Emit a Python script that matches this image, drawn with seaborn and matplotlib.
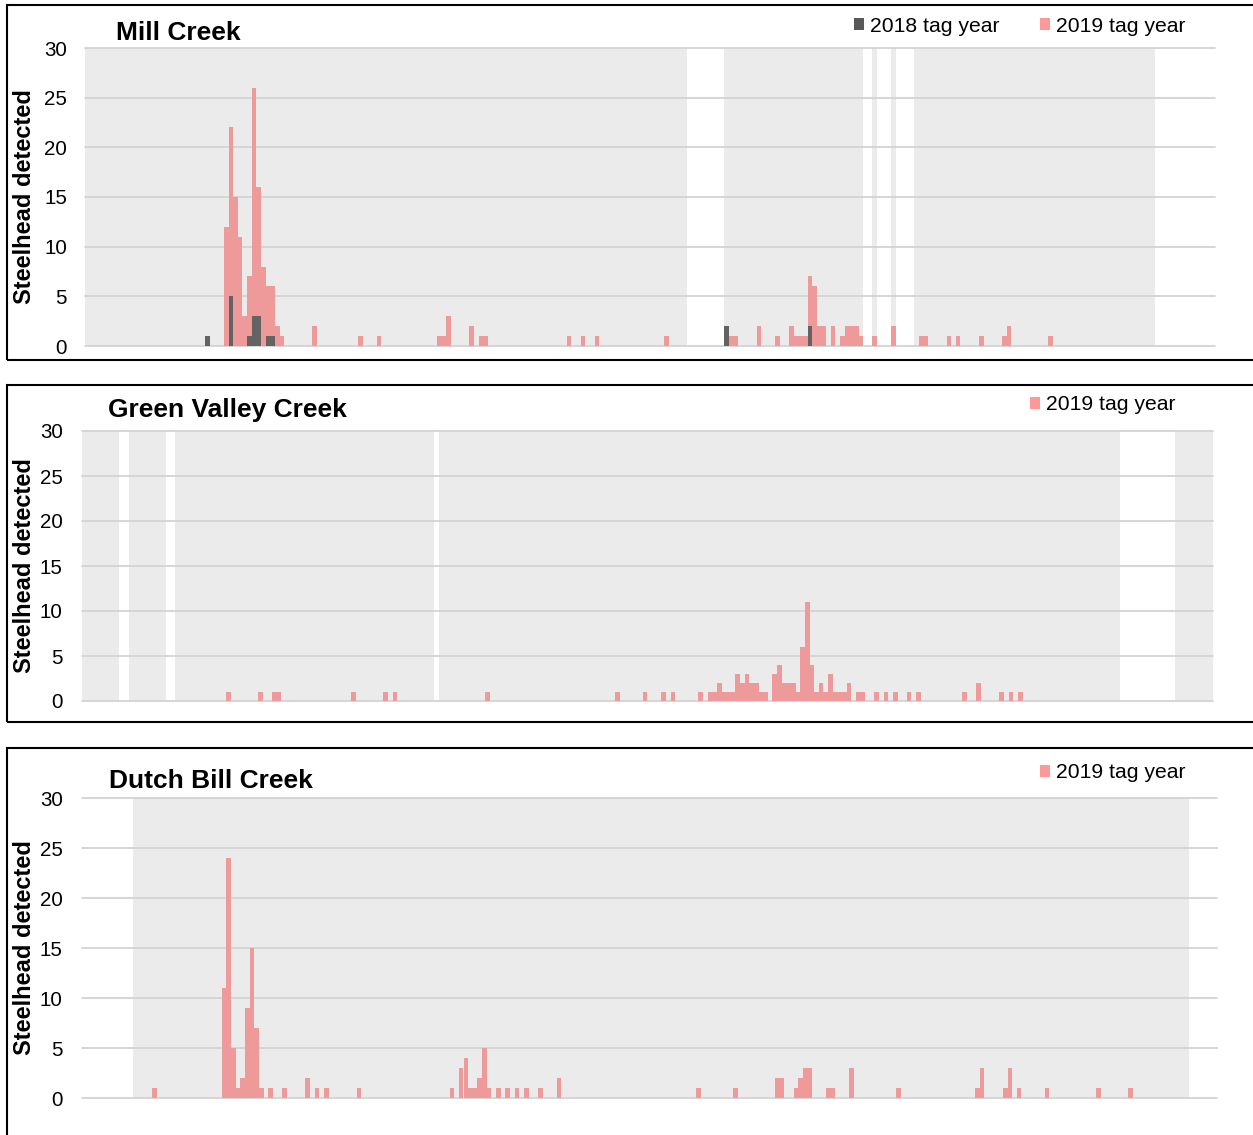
import matplotlib
matplotlib.use("Agg")
import matplotlib.pyplot as plt
from matplotlib.patches import Rectangle, Patch
import pandas as pd
import seaborn as sns

sns.set_style("white")
plt.rcParams["font.family"] = ["Liberation Sans", "DejaVu Sans"]
plt.rcParams["text.color"] = "black"
plt.rcParams["ytick.color"] = "black"

W, H = 1253, 1135
N_DAYS = 244
Y_TICKS = [0, 5, 10, 15, 20, 25, 30]
Y_LABEL = "Steelhead detected"
LABEL_2018 = "2018 tag year"
LABEL_2019 = "2019 tag year"

# ---------------- Mill Creek ----------------
mill_title = "Mill Creek"
mill_2019_days = [30, 31, 32, 33, 34, 35, 36, 37, 38, 39, 40, 41, 42, 49, 59, 63,
                  76, 77, 78, 83, 85, 86, 104, 107, 110, 125, 139, 140, 145, 149,
                  152, 153, 154, 155, 156, 157, 158, 159, 161, 163, 164, 165, 166,
                  167, 170, 174, 180, 181, 186, 188, 193, 198, 199, 208]
mill_2019_counts = [12, 22, 15, 11, 3, 7, 26, 16, 8, 6, 6, 2, 1, 2, 1, 1,
                    1, 1, 3, 2, 1, 1, 1, 1, 1, 1, 1, 1, 2, 1,
                    2, 1, 1, 1, 7, 6, 2, 2, 2, 1, 2, 2, 2,
                    1, 1, 2, 1, 1, 1, 1, 1, 1, 2, 1]
mill_2018_days = [26, 31, 35, 36, 37, 39, 40, 138, 156]
mill_2018_counts = [1, 5, 1, 3, 3, 1, 1, 2, 2]
mill_active = [(0, 129), (138, 167), (170, 170), (174, 174), (179, 230)]

# ---------------- Green Valley Creek ----------------
gv_title = "Green Valley Creek"
gv_2019_days = [31, 38, 41, 42, 58, 65, 67, 87, 115, 121, 125, 127, 133, 135, 136,
                137, 138, 139, 140, 141, 142, 143, 144, 145, 146, 147, 149, 150,
                151, 152, 153, 154, 155, 156, 157, 158, 159, 160, 161, 162, 163,
                164, 165, 167, 168, 171, 173, 175, 178, 180, 190, 193, 198, 200, 202]
gv_2019_counts = [1, 1, 1, 1, 1, 1, 1, 1, 1, 1, 1, 1, 1, 1, 1,
                  2, 1, 1, 1, 3, 2, 3, 2, 2, 1, 1, 3, 4,
                  2, 2, 2, 1, 6, 11, 4, 1, 2, 1, 3, 1, 1,
                  1, 2, 1, 1, 1, 1, 1, 1, 1, 1, 2, 1, 1, 1]
gv_active = [(0, 7), (10, 17), (20, 75), (77, 223), (236, 243)]

# ---------------- Dutch Bill Creek ----------------
db_title = "Dutch Bill Creek"
db_2019_days = [15, 30, 31, 32, 33, 34, 35, 36, 37, 38, 40, 43, 48, 50, 52, 59,
                79, 81, 82, 83, 84, 85, 86, 87, 89, 91, 93, 95, 98, 102,
                132, 140, 149, 150, 153, 154, 155, 156, 160, 161, 165, 175,
                192, 193, 198, 199, 201, 207, 218, 225]
db_2019_counts = [1, 11, 24, 5, 1, 2, 9, 15, 7, 1, 1, 1, 2, 1, 1, 1,
                  1, 3, 4, 1, 1, 2, 5, 1, 1, 1, 1, 1, 1, 2,
                  1, 1, 2, 2, 1, 2, 3, 3, 1, 1, 3, 1,
                  1, 3, 1, 3, 1, 1, 1, 1]
db_active = [(11, 237)]

PINK = "#EF9A9A"
PINK_LEG = "#FF9999"
DARK = "#636363"
DARK_LEG = "#595959"
BG = "#EBEBEB"
GRID = "#D3D3D3"

panels = [
    dict(title=mill_title, title_xy=(116, 40),
         series=[(mill_2019_days, mill_2019_counts, PINK, LABEL_2019),
                 (mill_2018_days, mill_2018_counts, DARK, LABEL_2018)],
         legend=[(LABEL_2018, DARK_LEG), (LABEL_2019, PINK_LEG)],
         legend_xy=(854, 26),
         active=mill_active,
         axes=(85, 48, 1215.2, 346), tickpad=13, box=(7, 5, 1270, 360)),
    dict(title=gv_title, title_xy=(108, 417),
         series=[(gv_2019_days, gv_2019_counts, PINK, LABEL_2019)],
         legend=[(LABEL_2019, PINK_LEG)],
         legend_xy=(1030, 405),
         active=gv_active,
         axes=(82.3, 431, 1212.5, 701), tickpad=14, box=(7, 385, 1270, 722)),
    dict(title=db_title, title_xy=(109, 788),
         series=[(db_2019_days, db_2019_counts, PINK, LABEL_2019)],
         legend=[(LABEL_2019, PINK_LEG)],
         legend_xy=(1040, 773),
         active=db_active,
         axes=(82.2, 798, 1216.8, 1098), tickpad=14, box=(7, 748, 1270, 1160)),
]

fig = plt.figure(figsize=(W / 100, H / 100), dpi=100)


def px_rect(l, t, r, b):
    return [l / W, 1 - b / H, (r - l) / W, (b - t) / H]


for p in panels:
    l, t, r, b = p["axes"]
    ax = fig.add_axes(px_rect(l, t, r, b))
    ax.patch.set_alpha(0)
    for s, e in p["active"]:
        ax.axvspan(s - 0.5, e + 0.5, color=BG, lw=0, zorder=0)
    for y in Y_TICKS:
        ax.axhline(y, color=GRID, lw=1.3, zorder=1, clip_on=False)
    for days, counts, col, lab in p["series"]:
        df = pd.DataFrame({"day": days, "count": counts})
        sns.barplot(data=df, x="day", y="count", native_scale=True, width=1,
                    color=col, saturation=1, errorbar=None, linewidth=0,
                    zorder=3, ax=ax)
    ax.set_xlim(-0.5, N_DAYS - 0.5)
    ax.set_ylim(0, 30)
    ax.set_yticks(Y_TICKS)
    ax.set_xticks([])
    ax.set_xlabel("")
    ax.set_ylabel("")
    ax.tick_params(axis="y", length=0, pad=p["tickpad"], labelsize=14.8, labelcolor="black")
    for sp in ax.spines.values():
        sp.set_visible(False)

    # title
    tx, ty = p["title_xy"]
    fig.text(tx / W, 1 - ty / H, p["title"], fontsize=19, fontweight="bold",
             ha="left", va="baseline", color="black")
    # y label
    fig.text(25 / W, 1 - ((t + b) / 2) / H, Y_LABEL, fontsize=17, fontweight="bold",
             rotation=90, ha="center", va="center", color="black")
    # legend
    handles = [Patch(facecolor=c, edgecolor="none", label=lab) for lab, c in p["legend"]]
    lx, ly = p["legend_xy"]
    leg = ax.legend(handles=handles, loc="center left",
                    bbox_to_anchor=(lx / W, 1 - ly / H), bbox_transform=fig.transFigure,
                    frameon=False, ncol=len(handles), fontsize=15.2,
                    handlelength=0.48, handleheight=0.48, handletextpad=0.28,
                    columnspacing=1.9, borderpad=0, borderaxespad=0)
    for txt in leg.get_texts():
        txt.set_color("black")
    # panel frame
    bl, bt, br, bb = p["box"]
    fig.add_artist(Rectangle((bl / W, 1 - bb / H), (br - bl) / W, (bb - bt) / H,
                             transform=fig.transFigure, fill=False,
                             edgecolor="black", lw=1.5))

fig.savefig("out.png", dpi=100)
